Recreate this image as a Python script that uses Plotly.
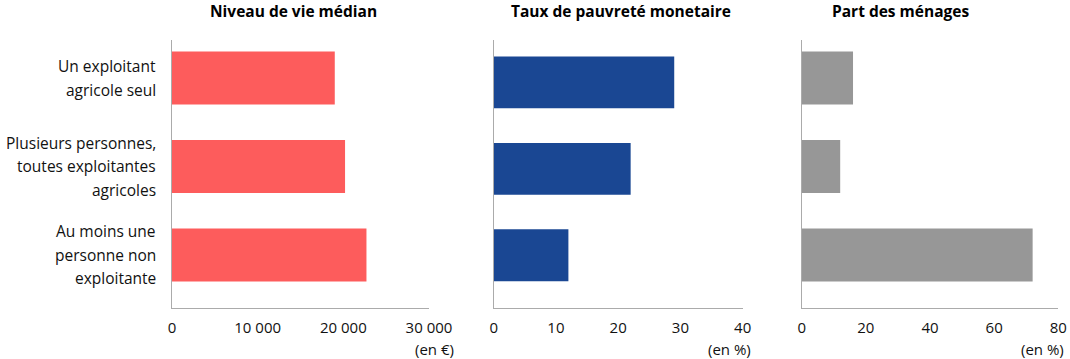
import plotly.graph_objects as go

categories = ["Un exploitant agricole seul",
              "Plusieurs personnes, toutes exploitantes agricoles",
              "Au moins une personne non exploitante"]
category_lines = [["Un exploitant", "agricole seul"],
                  ["Plusieurs personnes,", "toutes exploitantes", "agricoles"],
                  ["Au moins une", "personne non", "exploitante"]]
niveau_vie = [19000, 20200, 22700]
pauvrete = [29, 22, 12]
part_menages = [16, 12, 72]

titles = ["Niveau de vie médian", "Taux de pauvreté monetaire", "Part des ménages"]
units = ["(en €)", "(en %)", "(en %)"]
x_ticks = [[0, 10000, 20000, 30000], [0, 10, 20, 30, 40], [0, 20, 40, 60, 80]]
x_ranges = [[0, 30000], [0, 40], [0, 80]]
colors = ["#FD5C5C", "#1A4793", "#979797"]

W, H = 1070, 359
T, B = 40, 51
PH = H - T - B
def py(p):
    return (H - B - p) / PH

domains = [[172 / W, 429 / W], [493.7 / W, 742.7 / W], [801.7 / W, 1058.3 / W]]
y_ranges = [[2.6, -0.43], [2.61, -0.49], [2.6, -0.43]]
title_x = [293, 621, 900]
unit_x = [456, 753, 1066]

font = "Open Sans"
fig = go.Figure()
series = [niveau_vie, pauvrete, part_menages]
for i, vals in enumerate(series):
    xa = "x" if i == 0 else f"x{i+1}"
    ya = "y" if i == 0 else f"y{i+1}"
    fig.add_trace(go.Bar(x=vals, y=categories, orientation="h", width=0.6,
                         marker=dict(color=colors[i], line=dict(width=0)),
                         xaxis=xa, yaxis=ya, showlegend=False))
    xkey = "xaxis" if i == 0 else f"xaxis{i+1}"
    ykey = "yaxis" if i == 0 else f"yaxis{i+1}"
    fig.layout[xkey] = dict(domain=domains[i], range=x_ranges[i], tickvals=x_ticks[i],
                            tickformat=",", showgrid=False, zeroline=False,
                            showline=True, linecolor="#ABABAB", linewidth=1,
                            ticks="", ticklen=0, anchor=ya, ticklabelstandoff=6,
                            tickfont=dict(family=font, size=15, color="#111111"),
                            fixedrange=True, automargin=False)
    fig.layout[ykey] = dict(domain=[0, 1], range=y_ranges[i], type="category",
                            categoryorder="array", categoryarray=categories,
                            showticklabels=False, showgrid=False, zeroline=False,
                            showline=True, linecolor="#ABABAB", linewidth=1,
                            ticks="", anchor=xa, fixedrange=True, automargin=False)
    fig.add_annotation(text="<b>" + titles[i] + "</b>", xref="paper", yref="paper",
                       x=title_x[i] / W, y=py(11), xanchor="center", yanchor="middle",
                       showarrow=False, font=dict(family=font, size=15.5, color="#000000"))
    fig.add_annotation(text=units[i], xref="paper", yref="paper",
                       x=unit_x[i] / W, y=py(349), xanchor="right", yanchor="middle",
                       showarrow=False, font=dict(family=font, size=15, color="#111111"))

line_gap = 23.5
for cat, lines in zip(categories, category_lines):
    n = len(lines)
    for j, ln in enumerate(lines):
        fig.add_annotation(text=ln, xref="paper", yref="y", x=158 / W, y=cat,
                           xanchor="right", yanchor="middle", showarrow=False,
                           yshift=-(j - (n - 1) / 2) * line_gap,
                           font=dict(family=font, size=15.5, color="#111111"))

fig.update_layout(width=W, height=H, margin=dict(l=0, r=0, t=T, b=B, autoexpand=False),
                  paper_bgcolor="white", plot_bgcolor="white", autosize=False,
                  separators=", ", bargap=0.4)
fig.write_html("out.html",
               config={"responsive": False, "displayModeBar": False},
               post_script="document.body.style.margin='0';document.body.style.overflow='hidden';")
